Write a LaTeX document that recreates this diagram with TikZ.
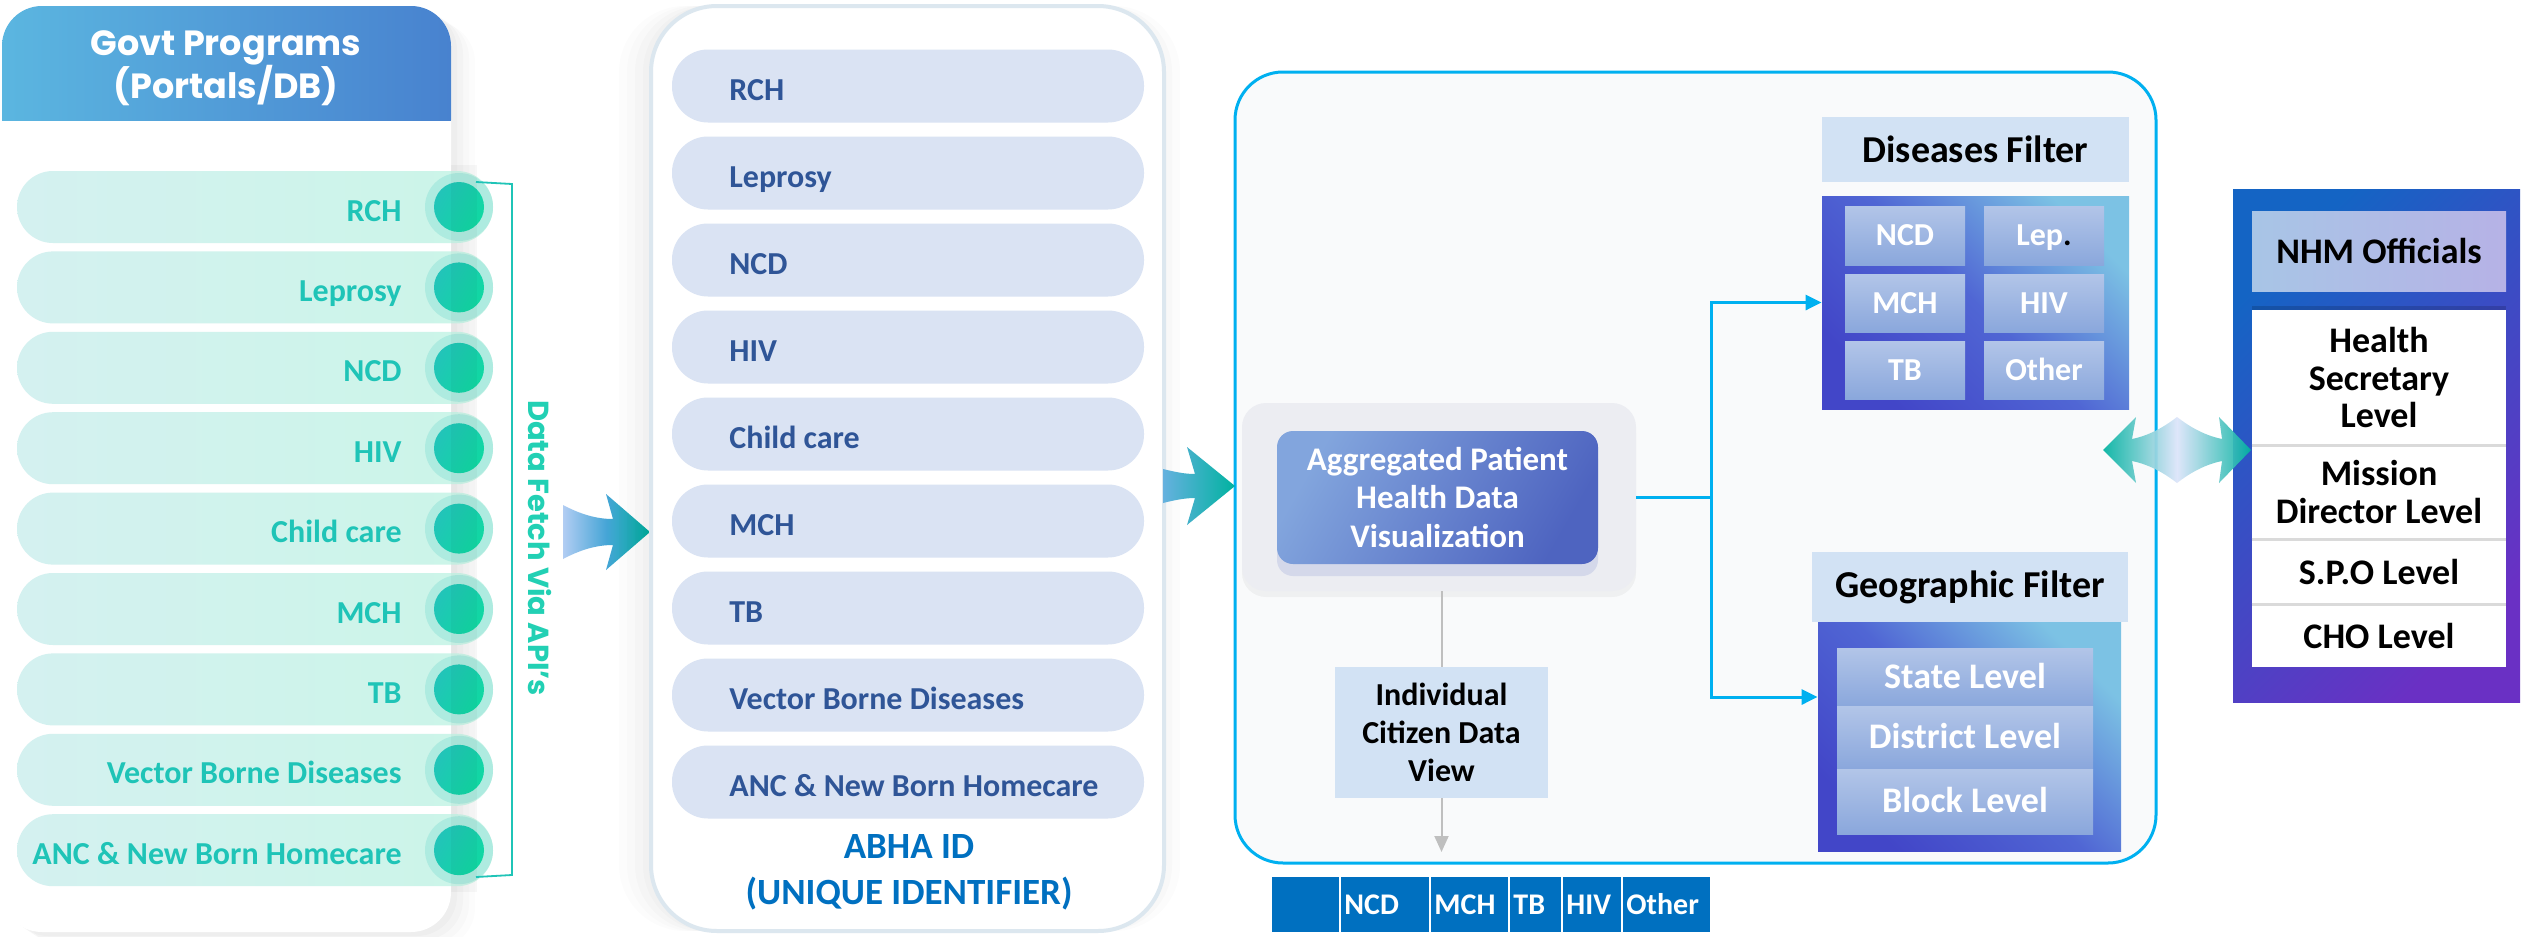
\documentclass[tikz,border=0pt]{standalone}
\usepackage{fontspec}
\setmainfont{Carlito}
\newfontfamily\popfont{Poppins}
\usetikzlibrary{arrows.meta,shadows,calc}
\definecolor{lhL}{HTML}{5BB6E0}
\definecolor{lhR}{HTML}{4882CF}
\definecolor{mintL}{HTML}{D4F1F0}
\definecolor{mintR}{HTML}{CBF5E8}
\definecolor{halo}{HTML}{AEEBE0}
\definecolor{tealtxt}{HTML}{1FC4B7}
\definecolor{circL}{HTML}{22C4B9}
\definecolor{circR}{HTML}{10D8A2}
\definecolor{fetchc}{HTML}{22D0B4}
\definecolor{midpill}{HTML}{DAE3F3}
\definecolor{midtxt}{HTML}{2F5597}
\definecolor{abhac}{HTML}{0070C0}
\definecolor{midborder}{HTML}{DCE7EF}
\definecolor{bigborder}{HTML}{00B0F0}
\definecolor{bigfill}{HTML}{F9FAFB}
\definecolor{lightbox}{HTML}{D2E2F4}
\definecolor{cellT}{HTML}{B2C5E8}
\definecolor{cellB}{HTML}{8AA7DC}
\definecolor{gridD}{HTML}{4246C8}
\definecolor{gridM}{HTML}{5066D4}
\definecolor{gridL}{HTML}{7CC2E4}
\definecolor{aggL}{HTML}{82A5DD}
\definecolor{aggR}{HTML}{4E64C0}
\definecolor{aggout}{HTML}{ECEDF2}
\definecolor{nhmUL}{HTML}{1464C4}
\definecolor{nhmLR}{HTML}{6A30C4}
\definecolor{nhmhL}{HTML}{A8C5E6}
\definecolor{nhmhR}{HTML}{B6B2E6}
\definecolor{barc}{HTML}{0070C0}
\definecolor{grayc}{HTML}{BFBFBF}
\definecolor{sepc}{HTML}{DADADA}
\definecolor{arrL}{HTML}{B2CDF3}
\definecolor{arrM}{HTML}{45A5D6}
\definecolor{arrT}{HTML}{00B2A0}
\definecolor{dmid}{HTML}{DCE4FA}
\begin{document}
\begin{tikzpicture}[x=0.5pt,y=-0.5pt,
  rshadow/.style={general shadow={fill=black,opacity=0.02,shadow xshift=3pt,shadow yshift=-2pt},
                  general shadow={fill=black,opacity=0.02,shadow xshift=6pt,shadow yshift=-4pt},
                  general shadow={fill=black,opacity=0.015,shadow xshift=9pt,shadow yshift=-6pt},
                  general shadow={fill=black,opacity=0.01,shadow xshift=12pt,shadow yshift=-8pt}},
  cshadow/.style={general shadow={fill=black,opacity=0.015,shadow xshift=-4pt},
                  general shadow={fill=black,opacity=0.015,shadow xshift=-8pt},
                  general shadow={fill=black,opacity=0.012,shadow xshift=-12pt},
                  general shadow={fill=black,opacity=0.01,shadow xshift=-16pt},
                  general shadow={fill=black,opacity=0.015,shadow xshift=4pt},
                  general shadow={fill=black,opacity=0.01,shadow xshift=8pt}},
  lpill/.style={rectangle,rounded corners=18pt,minimum width=238pt,minimum height=36pt,inner sep=0pt,left color=mintL,right color=mintR},
  lhalo/.style={circle,minimum size=34pt,inner sep=0pt,fill=halo},
  lcirc/.style={circle,minimum size=25pt,inner sep=0pt,left color=circL,right color=circR,shading angle=60},
  ltext/.style={font=\bfseries\fontsize{16pt}{19pt}\selectfont,text=tealtxt,inner sep=0pt},
  mpill/.style={rectangle,rounded corners=18pt,minimum width=236pt,minimum height=36.5pt,inner sep=0pt,fill=midpill},
  mtext/.style={font=\bfseries\fontsize{16pt}{19pt}\selectfont,text=midtxt,inner sep=0pt},
  abhatext/.style={font=\bfseries\fontsize{18.5pt}{22pt}\selectfont,text=abhac,inner sep=0pt,anchor=base},
  titlebox/.style={fill=lightbox,inner sep=0pt,font=\bfseries\fontsize{19pt}{22pt}\selectfont,text=black},
  gridbox/.style={left color=gridD,right color=gridL,middle color=gridM,shading angle=135,inner sep=0pt},
  cell/.style={top color=cellT,bottom color=cellB,inner sep=0pt,text=white,font=\bfseries\fontsize{16pt}{19pt}\selectfont,text height=10pt,text depth=0pt},
  geocell/.style={top color=cellT,bottom color=cellB,inner sep=0pt,text=white,font=\bfseries\fontsize{18pt}{21pt}\selectfont,text height=11.3pt,text depth=0pt,minimum width=128pt},
  conn/.style={draw=bigborder,line width=1.5pt},
  connarrow/.style={conn,-{Triangle[length=8pt,width=7.5pt]}},
  nhmrow/.style={fill=white,minimum width=127pt,inner sep=0pt,align=center,font=\bfseries\fontsize{18pt}{18.75pt}\selectfont,text=black},
  barcell/.style={fill=barc,anchor=west,minimum height=27.5pt,inner xsep=1.5pt,inner ysep=0pt,align=left,text=white,font=\bfseries\fontsize{15pt}{18pt}\selectfont}
]
\useasboundingbox (0,0) rectangle (2522,937);
\fill[white] (0,0) rectangle (2522,937);

% ---------------- left panel ----------------
\node[fill=white,rounded corners=20pt,minimum width=224.5pt,minimum height=463pt,inner sep=0pt,rshadow] (lpanel) at (226.5,469) {};
\shade[left color=lhL,right color=lhR,rounded corners=20pt] (2,6) rectangle (451,160);
\fill[white] (2,121) rectangle (451,170);
\node[font=\popfont\bfseries\fontsize{17.5pt}{20pt}\selectfont,text=white,anchor=base,inner sep=0pt] (gt1) at (226,55) {Govt Programs};
\node[font=\popfont\bfseries\fontsize{17.5pt}{20pt}\selectfont,text=white,anchor=base,inner sep=0pt] (gt2) at (226,98) {(Portals/DB)};

\foreach \t [count=\i] in {RCH,Leprosy,NCD,HIV,Child care,MCH,TB,Vector Borne Diseases,ANC \& New Born Homecare}{%
  \pgfmathsetmacro\yy{207+80.4*(\i-1)}
  \node[lpill] (lp\i) at (255,\yy) {};
  \node[lhalo] (lh\i) at (459,\yy) {};
  \node[lcirc] (lc\i) at (459,\yy) {};
  \node[ltext,anchor=base east] (lt\i) at (402,\yy+14) {\t};
}
\fill[black,opacity=0.03] (451,165) rectangle (477,892);
\draw[draw=tealtxt,line width=0.9pt] (476,182) -- (512,184) -- (512,875) -- (476,877);
\node[rotate=-90,font=\popfont\bfseries\fontsize{14.5pt}{18pt}\selectfont,text=fetchc,inner sep=0pt] (dfetch) at (540,548) {Data Fetch Via API’s};

% arrow 1
\shade[left color=arrL,right color=arrT,middle color=arrM]
  (563,505) .. controls (580,514) and (596,519) .. (613,519) -- (606,494) -- (650,532)
  -- (606,570) -- (613,545) .. controls (596,545) and (580,550) .. (563,559) -- cycle;

% ---------------- ABHA panel ----------------
\node[draw=midborder,line width=2pt,fill=white,rounded corners=33pt,minimum width=256.5pt,minimum height=462.5pt,inner sep=0pt,cshadow] (abha) at (907.5,468.5) {};
\foreach \t [count=\i] in {RCH,Leprosy,NCD,HIV,Child care,MCH,TB,Vector Borne Diseases,ANC \& New Born Homecare}{%
  \pgfmathsetmacro\yy{86+87*(\i-1)}
  \node[mpill] (mp\i) at (908,\yy) {};
  \node[mtext,anchor=base west] (mt\i) at (729,\yy+14) {\t};
}
\node[abhatext] (abha1) at (909,858) {ABHA ID};
\node[abhatext] (abha2) at (909,904) {(UNIQUE IDENTIFIER)};

% ---------------- big box ----------------
\node[draw=bigborder,line width=1.5pt,fill=bigfill,rounded corners=24pt,minimum width=460.5pt,minimum height=395.5pt,inner sep=0pt] (big) at (1695.5,467.5) {};

% arrow 2
\shade[left color=arrM!70!arrL,right color=arrT]
  (1163,469) .. controls (1175,472) and (1185,474) .. (1195,474) -- (1187,447) -- (1235,486)
  -- (1187,525) -- (1195,498) .. controls (1185,498) and (1175,500) .. (1163,503) -- cycle;

% aggregated
\node[fill=aggout,rounded corners=12pt,minimum width=197pt,minimum height=94pt,inner sep=0pt,
      general shadow={fill=black,opacity=0.04,shadow yshift=-3pt}] (aggo) at (1439,497) {};
\node[rounded corners=8pt,minimum width=160.5pt,minimum height=66.5pt,inner sep=0pt,
      left color=aggL,right color=aggR,shading angle=60,
      general shadow={fill=aggR,opacity=0.15,shadow yshift=-6pt},
      text=white,align=center,font=\bfseries\fontsize{16.5pt}{19.3pt}\selectfont] (agg) at (1437.5,497.5)
      {Aggregated Patient\\Health Data\\Visualization};

% citizen
\node[fill=lightbox,minimum width=106.5pt,minimum height=65.5pt,inner sep=0pt,align=center,
      font=\bfseries\fontsize{16pt}{19pt}\selectfont] (cit) at (1441.5,732.5) {Individual\\Citizen Data\\View};
\coordinate (gend) at (1441.5,852);
\draw[grayc,line width=1pt] (cit.north |- aggo.south) -- (cit.north);
\draw[grayc,line width=1pt,-{Triangle[length=8pt,width=7pt]}] (cit.south) -- (gend);

% diseases filter
\node[titlebox,minimum width=153.5pt,minimum height=32.5pt] (dtitle) at (1975.5,149.5) {Diseases Filter};
\node[gridbox,minimum width=153.5pt,minimum height=106.5pt] (dgrid) at (1975.5,302.5) {};
\node[cell,minimum width=60pt,minimum height=29.5pt] (dc1) at (1905,235.5) {NCD};
\node[cell,minimum width=60pt,minimum height=29.5pt] (dc2) at (2044,235.5) {Lep\textcolor{black}{.}};
\node[cell,minimum width=60pt,minimum height=29pt] (dc3) at (1905,303) {MCH};
\node[cell,minimum width=60pt,minimum height=29pt] (dc4) at (2044,303) {HIV};
\node[cell,minimum width=60pt,minimum height=29pt] (dc5) at (1905,370) {TB};
\node[cell,minimum width=60pt,minimum height=29pt] (dc6) at (2044,370) {Other};

% geographic filter
\node[titlebox,minimum width=158pt,minimum height=35pt] (gtitle) at (1970,587) {Geographic Filter};
\node[gridbox,minimum width=151.5pt,minimum height=114.5pt] (geogrid) at (1969.5,736.5) {};
\node[geocell,minimum height=29pt] (gr1) at (1965,677) {State Level};
\node[geocell,minimum height=31.5pt] (gr2) at (1965,737.5) {District Level};
\node[geocell,minimum height=32.5pt] (gr3) at (1965,801.5) {Block Level};

% connectors from aggregated
\coordinate (jn) at (1711,497);
\coordinate (jgeo) at (0,697);
\draw[conn] (aggo.east) -- (jn);
\draw[connarrow] (jn) |- (dgrid.west);
\draw[connarrow] (jn) |- (geogrid.west |- jgeo);

% NHM officials
\node[left color=nhmUL,right color=nhmLR,shading angle=45,minimum width=143.5pt,minimum height=256.5pt,inner sep=0pt] (nhm) at (2376.5,445.5) {};
\node[left color=nhmhL,right color=nhmhR,minimum width=127pt,minimum height=40pt,inner sep=0pt,
      font=\bfseries\fontsize{18pt}{21pt}\selectfont,text=black] (nhmh) at (2379,251) {NHM Officials};
\node[nhmrow,minimum height=67.5pt,general shadow={fill=black,opacity=0.15,shadow yshift=2pt}] (r1) at (2379,377.5) {Health\\Secretary\\Level};
\node[nhmrow,minimum height=47pt] (r2) at (2379,492) {Mission\\Director Level};
\node[nhmrow,minimum height=32.5pt] (r3) at (2379,571.5) {S.P.O Level};
\node[nhmrow,minimum height=31.5pt] (r4) at (2379,635.5) {CHO Level};
\draw[sepc,line width=1.5pt] (r1.south west) -- (r1.south east);
\draw[sepc,line width=1.5pt] (r2.south west) -- (r2.south east);
\draw[sepc,line width=1.5pt] (r3.south west) -- (r3.south east);

% double arrow
\shade[left color=arrT,right color=arrT,middle color=dmid,opacity=0.92]
  (2103,450) -- (2136,417) -- (2132,439) .. controls (2152,435) and (2168,424) .. (2177,417)
  .. controls (2186,424) and (2202,435) .. (2222,439) -- (2219,417) -- (2251,450)
  -- (2219,483) -- (2222,461) .. controls (2202,465) and (2186,476) .. (2177,483)
  .. controls (2168,476) and (2152,465) .. (2132,461) -- (2136,483) -- cycle;

% bottom bar
\node[barcell,minimum width=33.5pt,text width=30.5pt] (b0) at (1272,904.5) {};
\node[barcell,minimum width=44pt,text width=41pt] (b1) at (1341,904.5) {NCD};
\node[barcell,minimum width=38.5pt,text width=35.5pt] (b2) at (1431,904.5) {MCH};
\node[barcell,minimum width=25.5pt,text width=22.5pt] (b3) at (1510,904.5) {TB};
\node[barcell,minimum width=29pt,text width=26pt] (b4) at (1563,904.5) {HIV};
\node[barcell,minimum width=43.5pt,text width=40.5pt] (b5) at (1623,904.5) {Other};
\end{tikzpicture}
\end{document}
